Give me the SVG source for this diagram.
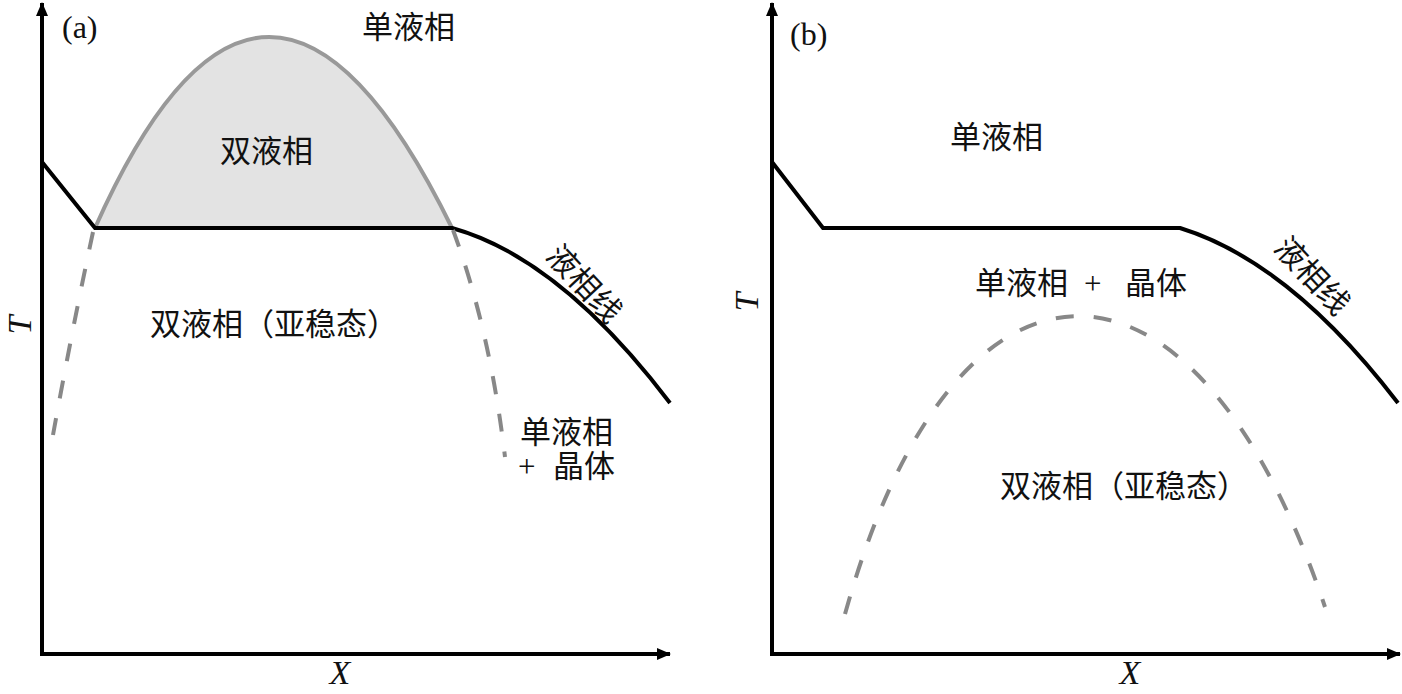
<svg xmlns="http://www.w3.org/2000/svg" width="1402" height="694" viewBox="0 0 1402 694">
<defs>
<marker id="arr" markerWidth="14" markerHeight="12" refX="13" refY="6" orient="auto" markerUnits="userSpaceOnUse">
<path d="M0,0 L14,6 L0,12 Z" fill="#000"/>
</marker>
<style>
.axis{stroke:#000;stroke-width:4;fill:none}
.liq{stroke:#000;stroke-width:4;fill:none;stroke-linejoin:miter}
.dash{stroke:#888;stroke-width:4;fill:none;stroke-dasharray:18 20}
.cn{font-family:"Liberation Serif","Noto Sans CJK SC",serif;font-size:31px;fill:#111}
.lab{font-family:"Liberation Serif",serif;font-size:32px;fill:#111}
.it{font-family:"Liberation Serif",serif;font-size:34px;font-style:italic;fill:#111}
</style>
</defs>
<rect width="1402" height="694" fill="#fff"/>
<g id="panel-a">
<g id="dome-a"><path d="M95,228 Q265,-154 452,228 Z" fill="#e3e3e3" stroke="none"/><path d="M95,228 Q265,-154 452,228" fill="none" stroke="#999" stroke-width="4"/></g>
<g id="connectors-a">
<path class="axis" d="M42,654 L42,3" marker-end="url(#arr)"/>
<path class="axis" d="M40,654 L670,654" marker-end="url(#arr)"/>
<path class="liq" d="M42,162 L95,228 L452,228 Q560,258 670,403"/>
<path class="dash" d="M93,232 Q72,330 53,435"/>
<path class="dash" d="M453,230 Q490,330 505,457"/>
</g>
<g id="labels-a">
<text class="lab" x="62" y="38">(a)</text>
<text class="cn" x="362" y="38">单液相</text>
<text class="cn" x="220" y="162">双液相</text>
<text class="cn" x="150" y="335">双液相（亚稳态）</text>
<text class="cn" transform="translate(584,284) rotate(47)" text-anchor="middle" dominant-baseline="central">液相线</text>
<text class="cn" x="520" y="443">单液相</text>
<text class="cn" x="518" y="477">+</text>
<text class="cn" x="553" y="477">晶体</text>
<text class="it" transform="translate(31,325) rotate(-90)" text-anchor="middle">T</text>
<text class="it" x="340" y="684" text-anchor="middle">X</text>
</g>
</g>
<g id="panel-b">
<g id="connectors-b">
<path class="axis" d="M772,654 L772,3" marker-end="url(#arr)"/>
<path class="axis" d="M770,654 L1400,654" marker-end="url(#arr)"/>
<path class="liq" d="M772,162 L823,228 L1180,228 Q1290,262 1398,403"/>
<path class="dash" d="M845,614 C955,218 1194,218 1325,607" stroke-dasharray="22 22"/>
</g>
<g id="labels-b">
<text class="lab" x="790" y="45">(b)</text>
<text class="cn" x="950" y="148">单液相</text>
<text class="cn" x="975" y="294">单液相</text>
<text class="cn" x="1084" y="294">+</text>
<text class="cn" x="1125" y="294">晶体</text>
<text class="cn" transform="translate(1312,276) rotate(47)" text-anchor="middle" dominant-baseline="central">液相线</text>
<text class="cn" x="1000" y="497">双液相（亚稳态）</text>
<text class="it" transform="translate(758,302) rotate(-90)" text-anchor="middle">T</text>
<text class="it" x="1130" y="684" text-anchor="middle">X</text>
</g>
</g>
</svg>
